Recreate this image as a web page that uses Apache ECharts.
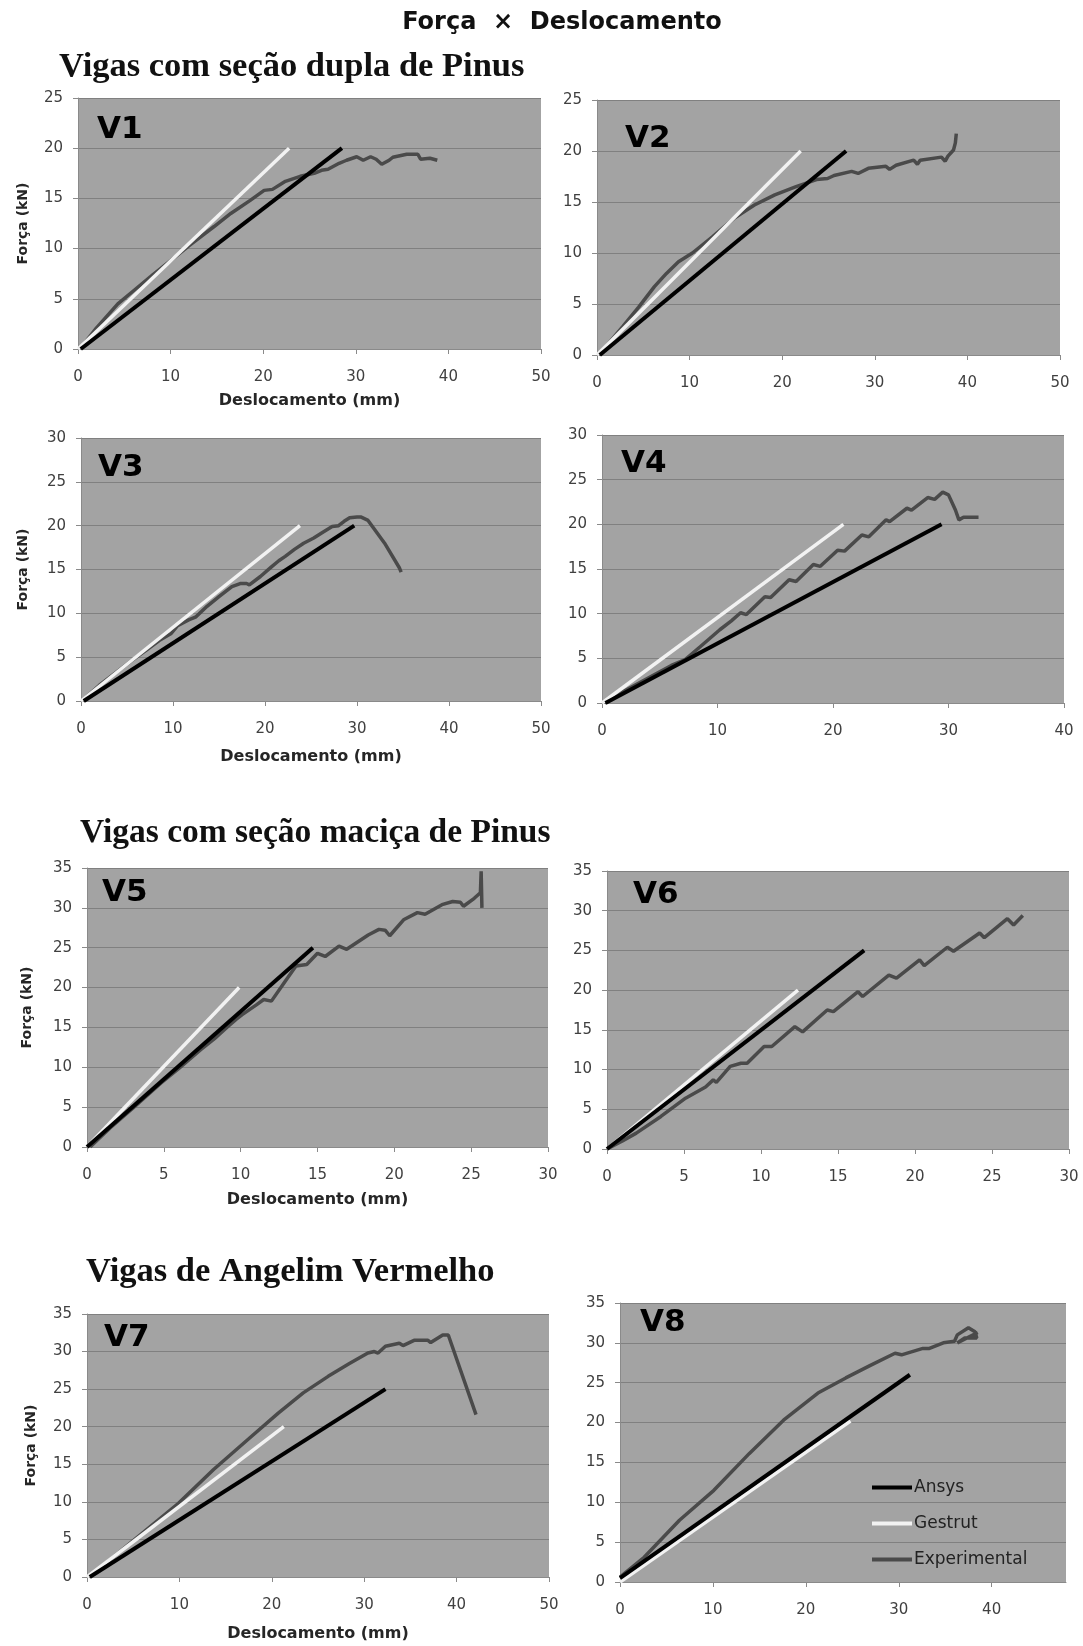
<!DOCTYPE html>
<html>
<head>
<meta charset="utf-8">
<script src="https://cdn.jsdelivr.net/npm/echarts@6/dist/echarts.min.js"></script>
<style>
html,body{margin:0;padding:0;background:#fff;}
#chart{width:1083px;height:1646px;}
</style>
</head>
<body>
<div id="chart"></div>
<script>
// ---------- DATA (Deslocamento mm, Força kN) ----------
const seriesNames = ['Ansys', 'Gestrut', 'Experimental'];
const panelLabels = ['V1', 'V2', 'V3', 'V4', 'V5', 'V6', 'V7', 'V8'];
const sectionTitles = ['Vigas com seção dupla de Pinus', 'Vigas com seção maciça de Pinus', 'Vigas de Angelim Vermelho'];
const mainTitle = 'Força  ×  Deslocamento';
const xName = 'Deslocamento (mm)';
const yName = 'Força (kN)';

const v1Ansys = [[0.3, 0], [28.5, 20]];
const v1Gestrut = [[0, 0], [22.8, 20]];
const v1Exp = [[0.3,0.1],[2,2.1],[4.3,4.5],[6,5.8],[8.1,7.4],[10,8.8],[12,10.3],[14.7,12.2],[16.5,13.5],[18.6,14.8],[20.1,15.8],[21,15.9],[22.4,16.7],[24,17.2],[25.5,17.5],[26.3,17.8],[27,17.9],[28.2,18.5],[29,18.8],[30.1,19.15],[30.8,18.8],[31.6,19.15],[32.2,18.9],[32.8,18.4],[33.6,18.8],[34,19.1],[35.5,19.4],[36.7,19.4],[37,18.9],[38,19.0],[38.8,18.8]];

const v2Ansys = [[0.3, 0], [26.9, 20]];
const v2Gestrut = [[0, 0], [22.0, 20]];
const v2Exp = [[0.2,0],[1.5,1.4],[2.8,2.8],[4.5,4.7],[6.2,6.7],[7.5,8.0],[8.8,9.15],[10.3,10.0],[12.5,11.6],[14.8,13.4],[17,14.7],[19.2,15.7],[21.5,16.5],[23.7,17.2],[24.9,17.3],[25.6,17.6],[27.5,18.0],[28.2,17.8],[29.3,18.3],[31.2,18.5],[31.6,18.2],[32.3,18.6],[34.2,19.1],[34.6,18.7],[34.9,19.1],[37.2,19.4],[37.6,19.0],[37.9,19.5],[38.5,20.1],[38.7,20.8],[38.8,21.7]];

const v3Ansys = [[0.3, 0], [29.7, 20]];
const v3Gestrut = [[0, 0], [23.8, 20]];
const v3Exp = [[0.2,0.1],[2,1.8],[4,3.4],[5.5,4.6],[7.1,5.8],[8.5,6.9],[9.8,7.7],[10.5,8.6],[11.7,9.25],[12.5,9.6],[13.7,10.8],[15,11.9],[16.4,13.05],[17.3,13.4],[18,13.4],[18.3,13.25],[19.5,14.2],[20.7,15.3],[21.5,16.0],[22.2,16.5],[23.2,17.3],[24.2,18.0],[25.3,18.6],[26.2,19.2],[27.3,19.9],[28,20.0],[28.6,20.5],[29.2,20.9],[30.0,21.0],[30.4,21.0],[31.2,20.6],[33,18.0],[34.6,15.2],[34.8,14.7]];

const v4Ansys = [[0.3, 0], [29.4, 20]];
const v4Gestrut = [[0, 0], [20.9, 20]];
const v4Exp = [[0.2,0],[2,1.4],[4,2.8],[6,4.2],[7.2,4.85],[8.5,6.3],[10.2,8.2],[11.2,9.2],[12.0,10.1],[12.5,9.9],[14.1,11.9],[14.6,11.8],[16.2,13.8],[16.8,13.6],[18.3,15.5],[18.9,15.3],[20.4,17.1],[21.0,17.0],[22.5,18.8],[23.1,18.6],[24.6,20.5],[24.9,20.3],[26.4,21.8],[26.8,21.6],[28.2,23.0],[28.8,22.8],[29.5,23.6],[30.0,23.3],[30.6,21.6],[30.9,20.5],[31.3,20.8],[32.6,20.8]];

const v5Ansys = [[0, 0], [14.7, 25]];
const v5Gestrut = [[0, 0], [9.9, 20]];
const v5Exp = [[0.2,0],[1.5,2.4],[3,4.9],[4.8,8.0],[6,9.9],[7.4,12.2],[8.3,13.6],[9.1,15.0],[9.7,16.0],[10.1,16.6],[11,17.8],[11.5,18.5],[12.0,18.3],[12.9,20.8],[13.6,22.7],[14.3,22.9],[15.0,24.3],[15.5,23.9],[16.4,25.2],[16.9,24.8],[18.3,26.6],[19.0,27.3],[19.4,27.2],[19.7,26.5],[20.6,28.5],[21.5,29.4],[22.0,29.2],[23.1,30.4],[23.8,30.8],[24.3,30.7],[24.5,30.2],[25.2,31.2],[25.6,31.9],[25.65,34.6],[25.7,30.0]];

const v6Ansys = [[0, 0], [16.7, 25]];
const v6Gestrut = [[0, 0], [12.4, 20]];
const v6Exp = [[0,0],[1,1.0],[1.9,2.0],[3.5,4.1],[5.1,6.4],[6.4,7.8],[6.9,8.7],[7.1,8.4],[8.0,10.4],[8.7,10.8],[9.1,10.8],[10.2,12.9],[10.7,12.9],[12.2,15.4],[12.7,14.75],[14.3,17.5],[14.7,17.3],[16.3,19.8],[16.6,19.2],[18.3,21.9],[18.8,21.5],[20.3,23.8],[20.6,23.1],[22.1,25.4],[22.5,24.9],[24.2,27.2],[24.5,26.6],[26.0,29.0],[26.4,28.2],[27.0,29.4]];

const v7Ansys = [[0.3, 0], [32.3, 25]];
const v7Gestrut = [[0, 0], [21.3, 20]];
const v7Exp = [[0.2,0],[3,2.8],[6,5.85],[9.9,9.8],[13.7,14.3],[17.6,18.5],[20.7,21.8],[23.4,24.5],[26.1,26.7],[28.4,28.4],[30.4,29.8],[31.1,30.0],[31.5,29.8],[32.3,30.7],[33.8,31.1],[34.2,30.8],[35.4,31.5],[36.9,31.5],[37.2,31.2],[38.5,32.2],[39.1,32.2],[42.1,21.6]];

const v8Ansys = [[0, 0.5], [31.2, 26]];
const v8Gestrut = [[0, 0], [24.8, 20.2]];
const v8Exp = [[0,0.6],[2.6,3.1],[6.4,7.75],[10.1,11.5],[13.9,16.1],[17.6,20.3],[21.3,23.7],[24.3,25.6],[27.0,27.2],[29.6,28.7],[30.3,28.5],[32.6,29.3],[33.3,29.3],[34.8,30.0],[36.0,30.2],[36.3,31.0],[37.5,31.9],[38.2,31.4],[38.4,30.6],[37.1,30.6],[36.3,30.0],[38.5,31.3]];

const xTicksV8 = [0, 10, 20, 30, 40];

// ---------- LAYOUT ----------
const panels = [
  {grid:[78, 98, 463, 251],   xMax:50, xInt:10, yMax:25, names:true,  xGap:44, yGap:48, data:[v1Ansys, v1Gestrut, v1Exp]},
  {grid:[597, 100, 463, 255], xMax:50, xInt:10, yMax:25, names:false, data:[v2Ansys, v2Gestrut, v2Exp]},
  {grid:[81, 438, 460, 263],  xMax:50, xInt:10, yMax:30, names:true,  xGap:48, yGap:51, data:[v3Ansys, v3Gestrut, v3Exp]},
  {grid:[602, 435, 462, 268], xMax:40, xInt:10, yMax:30, names:false, data:[v4Ansys, v4Gestrut, v4Exp]},
  {grid:[87, 868, 461, 279],  xMax:30, xInt:5,  yMax:35, names:true,  xGap:45, yGap:53, data:[v5Ansys, v5Gestrut, v5Exp]},
  {grid:[607, 871, 462, 278], xMax:30, xInt:5,  yMax:35, names:false, data:[v6Ansys, v6Gestrut, v6Exp]},
  {grid:[87, 1314, 462, 263], xMax:50, xInt:10, yMax:35, names:true,  xGap:49, yGap:49, data:[v7Ansys, v7Gestrut, v7Exp]},
  {grid:[620, 1303, 446, 279], xMax:48, xInt:10, yMax:35, names:false, custom:xTicksV8, data:[v8Ansys, v8Gestrut, v8Exp]}
];
const labelPos = [[97,130],[625,139],[98,468],[621,464],[102,893],[633,895],[104,1338],[640,1323]];
const sectionPos = [[59,67,34.5],[80,833,33.5],[86,1272,34.5]];

const colors = ['#000000', '#f2f2f2', '#4a4a4a'];
const widths = [4, 3.5, 3.5];
const zs = [4, 3, 2];
const tickFont = 'DejaVu Sans';

const grids = [], xAxes = [], yAxes = [], series = [];
panels.forEach((p, i) => {
  grids.push({left:p.grid[0], top:p.grid[1], width:p.grid[2], height:p.grid[3], show:true, backgroundColor:'#a3a3a3', borderWidth:0});
  const xa = {
    type:'value', gridIndex:i, min:0, max:p.xMax, interval:p.xInt,
    axisLine:{show:true, lineStyle:{color:'#8a8a8a', width:1}},
    axisTick:{show:true, length:5, lineStyle:{color:'#8a8a8a'}},
    splitLine:{show:false},
    axisLabel:{margin:21, fontSize:15, color:'#404040', fontFamily:tickFont}
  };
  if (p.custom) { xa.axisLabel.customValues = p.custom; xa.axisTick.customValues = p.custom; }
  if (p.names) {
    xa.name = xName; xa.nameLocation = 'middle'; xa.nameGap = p.xGap;
    xa.nameTextStyle = {fontFamily:tickFont, fontWeight:'bold', fontSize:16, color:'#262626'};
  }
  xAxes.push(xa);
  const ya = {
    type:'value', gridIndex:i, min:0, max:p.yMax, interval:5,
    axisLine:{show:true, lineStyle:{color:'#8a8a8a', width:1}},
    axisTick:{show:true, length:5, lineStyle:{color:'#8a8a8a'}},
    splitLine:{show:true, lineStyle:{color:'#808080', width:1}},
    axisLabel:{margin:15, fontSize:15, color:'#404040', fontFamily:tickFont}
  };
  if (p.names) {
    ya.name = yName; ya.nameLocation = 'middle'; ya.nameGap = p.yGap;
    ya.nameTextStyle = {fontFamily:tickFont, fontWeight:'bold', fontSize:14, color:'#262626'};
  }
  yAxes.push(ya);
  p.data.forEach((d, k) => {
    series.push({
      type:'line', name:seriesNames[k], xAxisIndex:i, yAxisIndex:i, data:d,
      showSymbol:false, symbol:'none', z:zs[k], color:colors[k],
      lineStyle:{color:colors[k], width:widths[k]}, emphasis:{disabled:true}
    });
  });
});

const graphics = [];
graphics.push({type:'text', x:562, y:23, style:{text:mainTitle, font:'bold 24px "DejaVu Sans"', fill:'#111', align:'center', verticalAlign:'middle'}});
sectionTitles.forEach((t, i) => {
  graphics.push({type:'text', x:sectionPos[i][0], y:sectionPos[i][1], style:{text:t, font:'bold ' + sectionPos[i][2] + 'px "Liberation Serif"', fill:'#111', align:'left', verticalAlign:'middle'}});
});
panelLabels.forEach((t, i) => {
  graphics.push({type:'text', x:labelPos[i][0], y:labelPos[i][1], z:10, style:{text:t, font:'bold 31px "DejaVu Sans"', fill:'#000', align:'left', verticalAlign:'middle'}});
});

const chart = echarts.init(document.getElementById('chart'), null, {renderer:'canvas'});
chart.setOption({
  animation:false,
  backgroundColor:'#ffffff',
  grid:grids, xAxis:xAxes, yAxis:yAxes, series:series,
  legend:{
    data:seriesNames, orient:'vertical', left:867, top:1474,
    icon:'rect', itemWidth:40, itemHeight:4, itemGap:19,
    textStyle:{fontSize:17, color:'#222', fontFamily:tickFont, padding:[0,0,0,-3]},
    selectedMode:false
  },
  graphic:graphics
});
</script>
</body>
</html>
